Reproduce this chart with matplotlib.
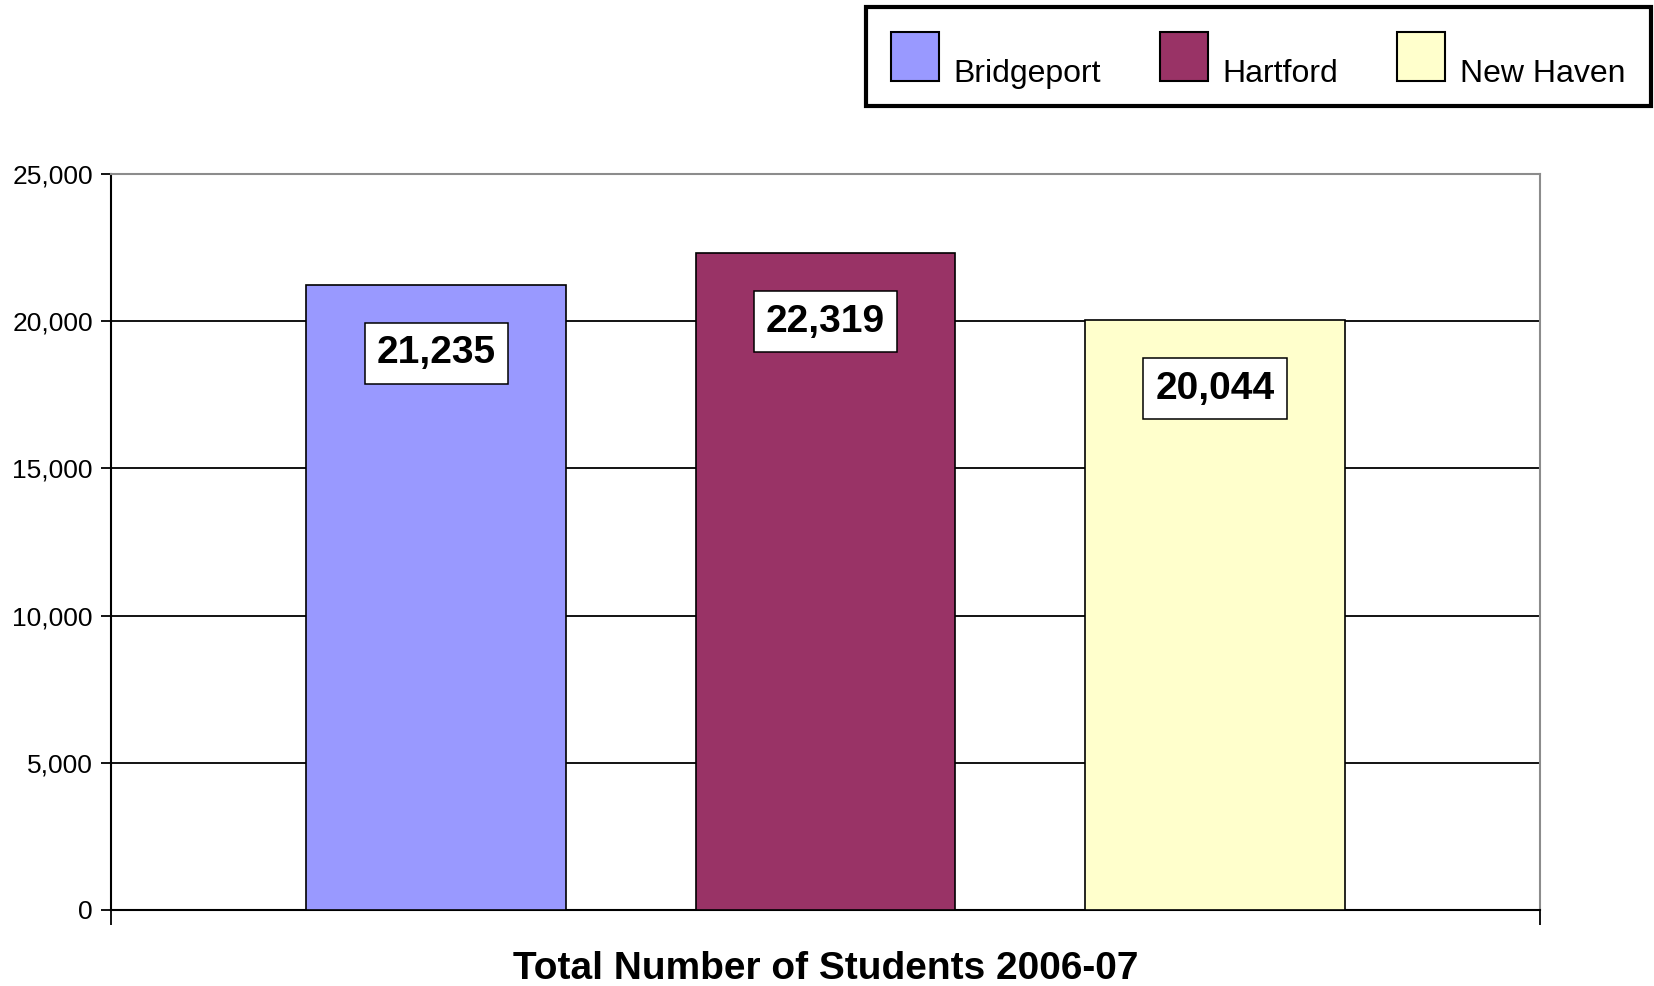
# Total number of students per city, 2006-07 (bar chart with boxed value labels)

import matplotlib.pyplot as plt
from matplotlib.ticker import FuncFormatter
from matplotlib.transforms import ScaledTranslation

# Data
cities = ["Bridgeport", "Hartford", "New Haven"]
students = [21235, 22319, 20044]
colors = ["#9999FF", "#993366", "#FFFFCC"]
y_ticks = [0, 5000, 10000, 15000, 20000, 25000]

plt.rcParams["font.family"] = ["Liberation Sans", "DejaVu Sans"]

fig = plt.figure(figsize=(16.54, 9.86), dpi=100)
ax = fig.add_axes([0.0671, 0.0771, 0.864, 0.7464])

# Bars
xs = list(range(len(cities)))
ax.bar(xs, students, width=0.667, color=colors,
       edgecolor="black", linewidth=1.2, zorder=3)

# Boxed value labels inside the bars
for x, v in zip(xs, students):
    ax.text(x, v - 2330, f"{v:,}", ha="center", va="center",
            fontsize=28, fontweight="bold", color="black", zorder=4,
            bbox=dict(boxstyle="square,pad=0.31", facecolor="white",
                      edgecolor="black", linewidth=1.1))

# Axes and grid
ax.set_xlim(-0.835, 2.835)
ax.set_ylim(0, 25000)
ax.set_yticks(y_ticks)
ax.yaxis.set_major_formatter(FuncFormatter(lambda v, p: f"{int(v):,}"))
ax.tick_params(axis="y", labelsize=19, length=7, width=1.3, pad=6, direction="out")
ax.set_xticks([-0.835, 2.835])
ax.set_xticklabels(["", ""])
ax.tick_params(axis="x", length=11, width=1.3, direction="out")
ax.yaxis.grid(True, color="black", linewidth=1.3)
ax.set_axisbelow(True)

ax.spines["left"].set_color("black")
ax.spines["left"].set_linewidth(1.5)
ax.spines["bottom"].set_color("black")
ax.spines["bottom"].set_linewidth(1.5)
ax.spines["top"].set_color("#8c8c8c")
ax.spines["top"].set_linewidth(1.5)
ax.spines["right"].set_color("#8c8c8c")
ax.spines["right"].set_linewidth(1.5)

# Title below the chart
fig.text(0.499, 0.017, "Total Number of Students 2006-07", fontsize=28,
         fontweight="bold", ha="center", va="center")

# Legend at the top right
handles = [plt.Rectangle((0, 0), 1, 1, facecolor=c, edgecolor="black", linewidth=1.5)
           for c in colors]
leg = fig.legend(handles, cities, loc="upper right", ncol=3,
                 bbox_to_anchor=(0.998, 0.993), borderaxespad=0, fontsize=23,
                 handlelength=1.5, handleheight=1.95, handletextpad=0.45,
                 columnspacing=1.85, borderpad=0.8, frameon=True,
                 fancybox=False, framealpha=1)
leg.get_frame().set_edgecolor("black")
leg.get_frame().set_linewidth(3)
# legend text sits low, next to the bottom of the colour boxes
for t in leg.get_texts():
    t.set_transform(t.get_transform() + ScaledTranslation(0, -0.15, fig.dpi_scale_trans))

plt.savefig("out.png", dpi=100)
